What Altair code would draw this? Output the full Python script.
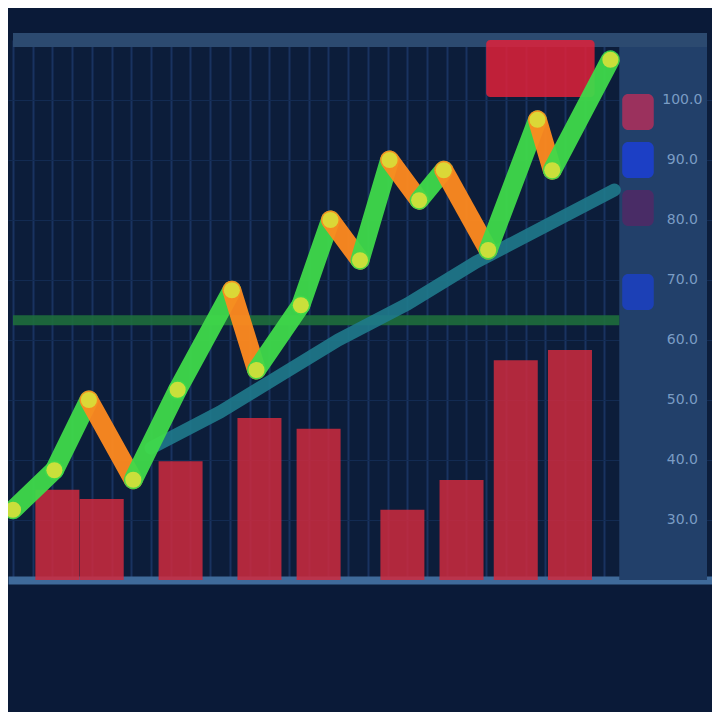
import altair as alt
import pandas as pd

# Price path (zig-zag line)
times = [0, 4.2, 7.7, 12.2, 16.7, 22.2, 24.7, 29.2, 32.2, 35.2, 38.2, 41.2, 43.7, 48.2, 53.2, 54.7, 60.6]
prices = [31.7, 38.3, 50, 36.7, 51.7, 68.3, 55, 65.8, 80, 73.3, 90, 83.3, 88.3, 75, 96.7, 88.3, 106.7]

# Moving average
ma_times = [14, 21, 27, 33, 40, 47, 54, 61]
ma_values = [42, 48, 54, 60, 66, 73, 79, 85]

# Volume bars
vol_times = [4.5, 9, 17, 25, 31, 39.5, 45.5, 51, 56.5]
volumes = [16.7, 15, 22, 30, 28, 13, 18.5, 40.7, 42.6]

# Support level and highlight zone
support_level = [63.3]
zone_t = [48, 59]
zone_p = [100.5, 110]

# Price scale labels (right panel) and price tags
price_ticks = [30, 40, 50, 60, 70, 80, 90, 100]
tag_prices = [98, 90, 82, 68]
tag_colors = ["#a8305c", "#1c3fcf", "#4e2a66", "#1c40bf"]

PDOM = [20, 110]
TDOM = [0, 70.4]
PANEL_T = [61.5, 70.4]

seg = pd.DataFrame({
    "t": times[:-1], "p": prices[:-1], "t2": times[1:], "p2": prices[1:],
})
seg["dir"] = ["up" if b > a else "down" for a, b in zip(prices[:-1], prices[1:])]
pts = pd.DataFrame({"t": times, "p": prices})
ma = pd.DataFrame({"t": ma_times, "p": ma_values})
vol = pd.DataFrame({"t": vol_times, "v": volumes})
sup = pd.DataFrame({"p": support_level, "t": [0], "t2": [PANEL_T[0]]})
zone = pd.DataFrame({"t": [zone_t[0]], "t2": [zone_t[1]], "p": [zone_p[0]], "p2": [zone_p[1]]})
panel = pd.DataFrame({"t": [PANEL_T[0]], "t2": [PANEL_T[1]], "p": [PDOM[0]], "p2": [PDOM[1]]})
labels = pd.DataFrame({"p": price_ticks, "t": [67.9] * len(price_ticks),
                       "txt": [f"{v:.1f}" for v in price_ticks]})
tags = pd.DataFrame({"p": [v - 3 for v in tag_prices], "p2": [v + 3 for v in tag_prices],
                     "t": [61.8] * 4, "t2": [65.0] * 4, "c": tag_colors})
topband = pd.DataFrame({"p": [PDOM[1]], "t": [0], "t2": [TDOM[1]]})

xs = alt.Scale(domain=TDOM, nice=False, zero=False)
ys = alt.Scale(domain=PDOM, nice=False, zero=False)

x_axis = alt.Axis(values=list(range(0, 62, 2)), grid=True, gridColor="#193360",
                  gridWidth=2, labels=False, ticks=False, domain=True,
                  domainColor="#3f6a9a", domainWidth=8, title=None)
y_axis = alt.Axis(values=price_ticks, grid=True, gridColor="#132b52",
                  gridWidth=1, labels=False, ticks=False, domain=False, title=None)


def X(field="t:Q"):
    return alt.X(field, scale=xs, axis=x_axis)


bars = alt.Chart(vol).mark_bar(size=44, color="#cf2a3e", opacity=0.85).encode(
    x=X(),
    y=alt.Y("v:Q", scale=alt.Scale(domain=[0, 100], nice=False), axis=None),
)

grid_layer = alt.Chart(pts).mark_point(opacity=0).encode(
    x=X(),
    y=alt.Y("p:Q", scale=ys, axis=y_axis),
)

panel_rect = alt.Chart(panel).mark_rect(color="#22406a").encode(
    x=X(), x2="t2:Q",
    y=alt.Y("p:Q", scale=ys, axis=None), y2="p2:Q",
)

tag_rect = alt.Chart(tags).mark_rect(cornerRadius=6, opacity=0.9).encode(
    x=X(), x2="t2:Q",
    y=alt.Y("p:Q", scale=ys, axis=None), y2="p2:Q",
    color=alt.Color("c:N", scale=None),
)

label_text = alt.Chart(labels).mark_text(color="#7a9cc4", fontSize=14, font="DejaVu Sans").encode(
    x=X(),
    y=alt.Y("p:Q", scale=ys, axis=None),
    text="txt:N",
)

top_rule = alt.Chart(topband).mark_rule(color="#2c4a70", strokeWidth=14).encode(
    x=X(), x2="t2:Q",
    y=alt.Y("p:Q", scale=ys, axis=None),
)

support = alt.Chart(sup).mark_rule(color="#1e6e3c", strokeWidth=10, opacity=0.9).encode(
    x=X(), x2="t2:Q",
    y=alt.Y("p:Q", scale=ys, axis=None),
)

zone_rect = alt.Chart(zone).mark_rect(color="#e0213a", opacity=0.85, cornerRadius=4).encode(
    x=X(), x2="t2:Q",
    y=alt.Y("p:Q", scale=ys, axis=None), y2="p2:Q",
)

ma_line = alt.Chart(ma).mark_line(color="#1f7a8c", strokeWidth=13, opacity=0.9,
                                  strokeCap="round").encode(
    x=X(),
    y=alt.Y("p:Q", scale=ys, axis=None),
)

segments = alt.Chart(seg).mark_rule(strokeWidth=19, strokeCap="round", opacity=0.95).encode(
    x=X(), x2="t2:Q",
    y=alt.Y("p:Q", scale=ys, axis=None), y2="p2:Q",
    color=alt.Color("dir:N", scale=alt.Scale(domain=["up", "down"],
                                             range=["#3fd94a", "#ff8a1f"]), legend=None),
)

joints = alt.Chart(pts).mark_circle(size=260, color="#d8e03a", opacity=0.9).encode(
    x=X(),
    y=alt.Y("p:Q", scale=ys, axis=None),
)

chart = alt.layer(
    bars, grid_layer, panel_rect, tag_rect, label_text, top_rule,
    support, zone_rect, ma_line, segments, joints
).resolve_scale(y="independent").properties(
    width=704, height=540,
    padding={"left": 0, "top": 32, "right": 0, "bottom": 132},
    autosize=alt.AutoSizeParams(type="none"),
    background="#0a1a38",
).configure_view(fill="#0c1d3a", strokeWidth=0)

chart.save("out.html", embed_options={"renderer": "svg", "actions": False})
